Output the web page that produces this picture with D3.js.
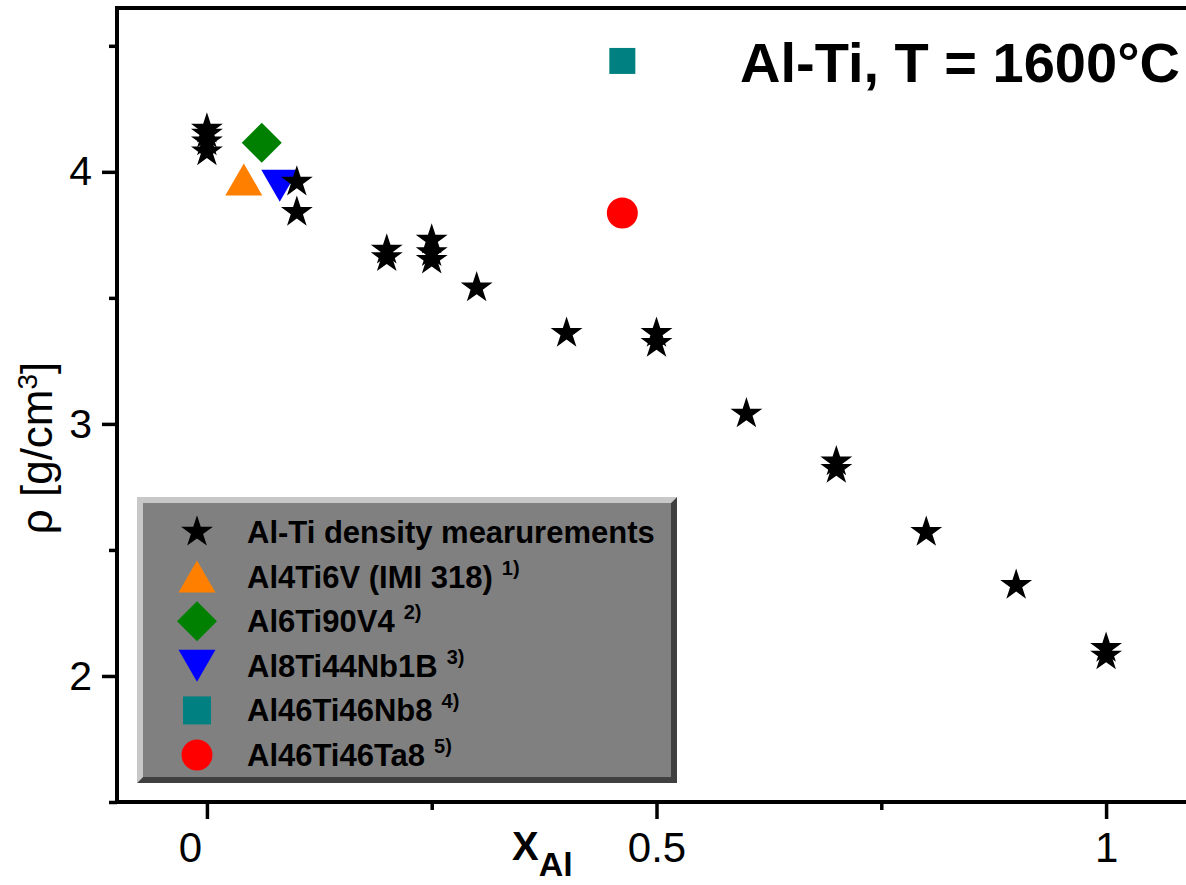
<!DOCTYPE html>
<html>
<head>
<meta charset="utf-8">
<script src="https://cdn.jsdelivr.net/npm/d3@7"></script>
<style>
  body { margin: 0; background: #fff; }
  svg { display: block; }
  text { font-family: "Liberation Sans", Arial, sans-serif; }
</style>
</head>
<body>
<svg id="chart" width="1186" height="885"></svg>
<script>
// Al-Ti density measurements (x_Al, rho)
var starX   = [0, 0, 0, 0, 0.1, 0.1, 0.2, 0.2, 0.25, 0.25, 0.25, 0.3, 0.4, 0.5, 0.5, 0.6, 0.7, 0.7, 0.8, 0.9, 1.0, 1.0];
var starRho = [4.17, 4.15, 4.12, 4.08, 3.96, 3.84, 3.69, 3.66, 3.73, 3.68, 3.65, 3.54, 3.36, 3.36, 3.32, 3.04, 2.85, 2.82, 2.57, 2.36, 2.11, 2.08];

// alloys
var alloyNames = ["Al4Ti6V (IMI 318)", "Al6Ti90V4", "Al8Ti44Nb1B", "Al46Ti46Nb8", "Al46Ti46Ta8"];
var alloyRefs  = ["1)", "2)", "3)", "4)", "5)"];
var alloyX     = [0.041, 0.061, 0.081, 0.462, 0.462];
var alloyRho   = [3.97, 4.115, 3.945, 4.44, 3.837];

var yMajor = [2, 3, 4];
var yMinor = [1.5, 2.5, 3.5, 4.5];
var xMajor = [0, 0.5, 1];
var xMinor = [0.25, 0.75];

var svg = d3.select("#chart");

var x = d3.scaleLinear().domain([-0.1, 1.1]).range([117, 1196]);
var y = d3.scaleLinear().domain([1.5, 4.65]).range([802, 8]);

// symbol types, sized by width, centred on the bounding box
var triUp = { draw: function(c, s) { var h = s * 0.866; c.moveTo(0, -h / 2); c.lineTo(s / 2, h / 2); c.lineTo(-s / 2, h / 2); c.closePath(); } };
var triDown = { draw: function(c, s) { var h = s * 0.866; c.moveTo(0, h / 2); c.lineTo(s / 2, -h / 2); c.lineTo(-s / 2, -h / 2); c.closePath(); } };
var diamond = { draw: function(c, s) { var r = s / 2; c.moveTo(0, -r); c.lineTo(r, 0); c.lineTo(0, r); c.lineTo(-r, 0); c.closePath(); } };
var square = { draw: function(c, s) { c.rect(-s / 2, -s / 2, s, s); } };
var circle = { draw: function(c, s) { c.moveTo(s / 2, 0); c.arc(0, 0, s / 2, 0, 2 * Math.PI); } };

var alloyType  = [triUp, diamond, triDown, square, circle];
var alloySize  = [37, 40, 37, 26, 31];
var alloyColor = ["#ff8000", "#008000", "#0000ff", "#008080", "#ff0000"];

var starPath = d3.symbol().type(d3.symbolStar).size(315)();

// axes
var yAx = svg.append("g").attr("transform", "translate(117,0)");
yAx.call(d3.axisLeft(y).tickValues(yMajor).tickSize(15).tickPadding(10).tickFormat(d3.format("d")));
yAx.append("g").call(d3.axisLeft(y).tickValues(yMinor).tickSize(8).tickFormat(""));
yAx.selectAll(".domain").remove();
yAx.selectAll("line").attr("stroke", "#000").attr("stroke-width", 3.5);
yAx.selectAll("text").attr("font-size", 41).attr("fill", "#000").attr("font-family", "Liberation Sans, Arial, sans-serif");

var xAx = svg.append("g").attr("transform", "translate(0,802)");
xAx.call(d3.axisBottom(x).tickValues(xMajor).tickSize(17).tickPadding(13).tickFormat(function(d) { return String(d); }));
xAx.append("g").call(d3.axisBottom(x).tickValues(xMinor).tickSize(8).tickFormat(""));
xAx.selectAll(".domain").remove();
xAx.selectAll("line").attr("stroke", "#000").attr("stroke-width", 3.5);
xAx.selectAll("text").attr("font-size", 42).attr("fill", "#000").attr("font-family", "Liberation Sans, Arial, sans-serif");
xAx.selectAll(".tick text").filter(function(d) { return d === 0; }).attr("dx", -17);

// frame
svg.append("path")
  .attr("d", "M1186,8H117V802H1186")
  .attr("fill", "none").attr("stroke", "#000").attr("stroke-width", 4);

// alloy markers
svg.append("g").selectAll("path")
  .data(alloyX)
  .enter().append("path")
  .attr("transform", function(d, i) { return "translate(" + x(d) + "," + y(alloyRho[i]) + ")"; })
  .attr("d", function(d, i) { return d3.symbol().type(alloyType[i]).size(alloySize[i])(); })
  .attr("fill", function(d, i) { return alloyColor[i]; });

// stars
svg.append("g").selectAll("path")
  .data(starX)
  .enter().append("path")
  .attr("transform", function(d, i) { return "translate(" + x(d) + "," + y(starRho[i]) + ")"; })
  .attr("d", starPath)
  .attr("fill", "#000");

// title
svg.append("text")
  .attr("x", 1180).attr("y", 82)
  .attr("text-anchor", "end")
  .attr("font-size", 56).attr("font-weight", "bold")
  .text("Al-Ti, T = 1600°C");

// axis titles
var xt = svg.append("text").attr("x", 512).attr("y", 860).attr("font-weight", "bold").attr("font-size", 40);
xt.append("tspan").text("X");
xt.append("tspan").attr("font-size", 34).attr("dy", 16).text("Al");

var yt = svg.append("text")
  .attr("transform", "translate(52,448) rotate(-90)")
  .attr("text-anchor", "middle")
  .attr("font-size", 44);
yt.append("tspan").text("ρ [g/cm");
yt.append("tspan").attr("font-size", 28).attr("dy", -15).text("3");
yt.append("tspan").attr("dy", 15).text("]");

// legend
var lx0 = 137, ly0 = 497, lx1 = 677, ly1 = 783, b = 6;
var leg = svg.append("g");
leg.append("polygon")
  .attr("points", [[lx0, ly0], [lx1, ly0], [lx1 - b, ly0 + b], [lx0 + b, ly0 + b], [lx0 + b, ly1 - b], [lx0, ly1]].join(" "))
  .attr("fill", "#c8c8c8");
leg.append("polygon")
  .attr("points", [[lx1, ly0], [lx1, ly1], [lx0, ly1], [lx0 + b, ly1 - b], [lx1 - b, ly1 - b], [lx1 - b, ly0 + b]].join(" "))
  .attr("fill", "#404040");
leg.append("rect")
  .attr("x", lx0 + b).attr("y", ly0 + b)
  .attr("width", lx1 - lx0 - 2 * b).attr("height", ly1 - ly0 - 2 * b)
  .attr("fill", "#808080");

var rowY = function(i) { return 532 + i * 44.6; };

leg.append("path")
  .attr("transform", "translate(197," + rowY(0) + ")")
  .attr("d", starPath).attr("fill", "#000");
leg.append("text")
  .attr("x", 247).attr("y", rowY(0) + 11)
  .attr("font-size", 31).attr("font-weight", "bold")
  .text("Al-Ti density mearurements");

var legSize = [37, 40, 37, 28, 31];
alloyNames.forEach(function(name, i) {
  var cy = rowY(i + 1);
  leg.append("path")
    .attr("transform", "translate(197," + cy + ")")
    .attr("d", d3.symbol().type(alloyType[i]).size(legSize[i])())
    .attr("fill", alloyColor[i]);
  var t = leg.append("text")
    .attr("x", 247).attr("y", cy + 11)
    .attr("font-size", 31).attr("font-weight", "bold");
  t.append("tspan").text(name);
  t.append("tspan").attr("font-size", 20).attr("dx", 9).attr("dy", -13).text(alloyRefs[i]);
});
</script>
</body>
</html>
